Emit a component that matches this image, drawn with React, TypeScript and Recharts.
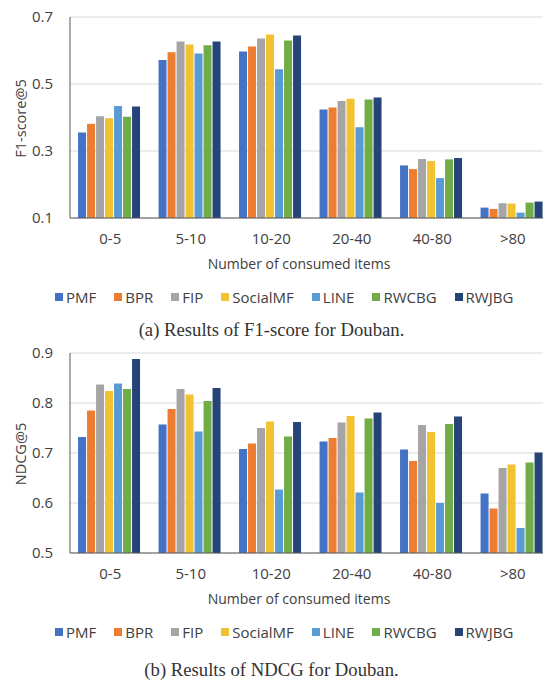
import { Bar, BarChart, CartesianGrid, XAxis, YAxis } from "recharts";

const categories = ["0-5", "5-10", "10-20", "20-40", "40-80", ">80"];
const seriesNames = ["PMF", "BPR", "FIP", "SocialMF", "LINE", "RWCBG", "RWJBG"];
const seriesColors = ["#4472C4", "#ED7D31", "#A5A5A5", "#F2C230", "#5B9BD5", "#70AD47", "#264478"];

// F1-score@5
const f1Pmf = [0.355, 0.572, 0.597, 0.424, 0.257, 0.131];
const f1Bpr = [0.381, 0.595, 0.612, 0.43, 0.246, 0.127];
const f1Fip = [0.404, 0.627, 0.636, 0.449, 0.276, 0.144];
const f1SocialMf = [0.398, 0.618, 0.648, 0.456, 0.27, 0.143];
const f1Line = [0.434, 0.591, 0.544, 0.371, 0.219, 0.116];
const f1Rwcbg = [0.402, 0.616, 0.63, 0.454, 0.275, 0.146];
const f1Rwjbg = [0.433, 0.627, 0.645, 0.46, 0.279, 0.149];

// NDCG@5
const ndcgPmf = [0.732, 0.757, 0.708, 0.723, 0.707, 0.619];
const ndcgBpr = [0.785, 0.788, 0.719, 0.73, 0.684, 0.589];
const ndcgFip = [0.837, 0.828, 0.75, 0.761, 0.756, 0.67];
const ndcgSocialMf = [0.824, 0.817, 0.763, 0.774, 0.742, 0.677];
const ndcgLine = [0.839, 0.743, 0.627, 0.621, 0.6, 0.55];
const ndcgRwcbg = [0.828, 0.804, 0.733, 0.769, 0.758, 0.681];
const ndcgRwjbg = [0.888, 0.83, 0.762, 0.781, 0.773, 0.701];

const f1Ticks = [0.1, 0.3, 0.5, 0.7];
const ndcgTicks = [0.5, 0.6, 0.7, 0.8, 0.9];

const f1Series = [f1Pmf, f1Bpr, f1Fip, f1SocialMf, f1Line, f1Rwcbg, f1Rwjbg];
const ndcgSeries = [ndcgPmf, ndcgBpr, ndcgFip, ndcgSocialMf, ndcgLine, ndcgRwcbg, ndcgRwjbg];

const toRows = (series: number[][]) =>
  categories.map((category, i) => {
    const row: Record<string, string | number> = { category };
    seriesNames.forEach((name, s) => {
      row[name] = series[s][i];
    });
    return row;
  });

const sans = "'Open Sans', sans-serif";
const textColor = "#404040";

function DoubanChart({
  series,
  ticks,
  yLabel,
  top,
  height
}: {
  series: number[][];
  ticks: number[];
  yLabel: string;
  top: number;
  height: number;
}) {
  return (
    <div style={{ position: "absolute", left: 0, top }}>
      <BarChart
        width={575}
        height={height}
        data={toRows(series)}
        margin={{ top: 17, right: 22, left: 0, bottom: 2 }}
        barCategoryGap="10%"
        barGap={1}
      >
        <CartesianGrid stroke="#d9d9d9" vertical={false} />
        <XAxis
          dataKey="category"
          height={55}
          tickLine={false}
          tickSize={0}
          tickMargin={15}
          axisLine={{ stroke: "#595959" }}
          tick={{ fill: textColor, fontSize: 15, fontFamily: sans }}
          label={{
            content: ({ viewBox }: any) => (
              <text
                x={299}
                y={viewBox.y + 45}
                textAnchor="middle"
                dominantBaseline="central"
                fill={textColor}
                fontSize={14}
                fontFamily={sans}
              >
                Number of consumed items
              </text>
            )
          }}
        />
        <YAxis
          width={70}
          domain={[ticks[0], ticks[ticks.length - 1]]}
          ticks={ticks}
          tickFormatter={(v: number) => v.toFixed(1)}
          tickLine={false}
          tickSize={0}
          tickMargin={17}
          axisLine={{ stroke: "#595959" }}
          tick={{ fill: textColor, fontSize: 15, fontFamily: sans }}
          label={{
            content: ({ viewBox }: any) => {
              const cy = viewBox.y + viewBox.height / 2 + 1;
              return (
                <text
                  x={20}
                  y={cy}
                  transform={`rotate(-90, 20, ${cy})`}
                  textAnchor="middle"
                  dominantBaseline="central"
                  fill={textColor}
                  fontSize={14.5}
                  fontFamily={sans}
                >
                  {yLabel}
                </text>
              );
            }
          }}
        />
        {seriesNames.map((name, i) => (
          <Bar key={name} dataKey={name} fill={seriesColors[i]} isAnimationActive={false} />
        ))}
      </BarChart>
    </div>
  );
}

function LegendRow({ top }: { top: number }) {
  return (
    <div
      style={{
        position: "absolute",
        left: 55,
        top,
        display: "flex",
        alignItems: "center",
        fontFamily: sans,
        fontSize: 15,
        color: textColor,
        lineHeight: "18px",
        whiteSpace: "nowrap"
      }}
    >
      {seriesNames.map((name, i) => (
        <span key={name} style={{ display: "flex", alignItems: "center", marginRight: 18 }}>
          <span style={{ width: 8, height: 8, background: seriesColors[i], marginRight: 3 }} />
          {name}
        </span>
      ))}
    </div>
  );
}

function Caption({ top, children }: { top: number; children: string }) {
  return (
    <div
      style={{
        position: "absolute",
        left: 0,
        top,
        width: 543,
        textAlign: "center",
        fontFamily: "'Liberation Serif', serif",
        fontSize: 18.7,
        lineHeight: "20px",
        color: "#333"
      }}
    >
      {children}
    </div>
  );
}

export default function App() {
  return (
    <div
      style={{
        position: "absolute",
        left: 0,
        top: 0,
        width: 543,
        height: 680,
        overflow: "hidden",
        background: "#fff"
      }}
    >
      <DoubanChart series={f1Series} ticks={f1Ticks} yLabel="F1-score@5" top={0} height={275} />
      <LegendRow top={288} />
      <Caption top={320}>(a) Results of F1-score for Douban.</Caption>
      <DoubanChart series={ndcgSeries} ticks={ndcgTicks} yLabel="NDCG@5" top={336} height={274} />
      <LegendRow top={623} />
      <Caption top={660}>(b) Results of NDCG for Douban.</Caption>
    </div>
  );
}
